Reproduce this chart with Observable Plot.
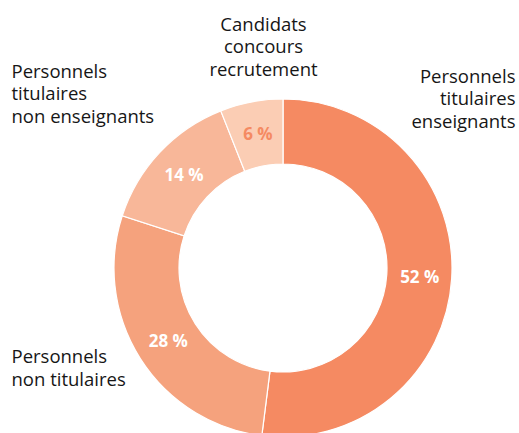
<!DOCTYPE html>
<html>
<head>
<meta charset="utf-8">
<script src="https://cdn.jsdelivr.net/npm/d3@7"></script>
<script src="https://cdn.jsdelivr.net/npm/@observablehq/plot@0.6"></script>
<style>
  html, body { margin: 0; padding: 0; background: #fff; }
  #chart svg { display: block; }
</style>
</head>
<body>
<div id="chart"></div>
<script>
// ---- Data ----
const categories = [
  "Personnels titulaires enseignants",
  "Personnels non titulaires",
  "Personnels titulaires non enseignants",
  "Candidats concours recrutement"
];
const categoryLabels = [
  "Personnels\ntitulaires\nenseignants",
  "Personnels\nnon titulaires",
  "Personnels\ntitulaires\nnon enseignants",
  "Candidats\nconcours\nrecrutement"
];
const values = [52, 28, 14, 6];
const valueLabels = ["52 %", "28 %", "14 %", "6 %"];
const sliceColors = ["#f58a62", "#f5a27d", "#f8b799", "#fbcdb4"];

// ---- Layout (not data) ----
const W = 519, H = 433;
const cx = 283, cy = 268, R = 169, r0 = 104;
const labelLayout = [
  {x: 515, y: 127, anchor: "end"},
  {x: 11, y: 385, anchor: "start"},
  {x: 11, y: 122, anchor: "start"},
  {x: 263, y: 75, anchor: "middle"}
];

const color = Plot.scale({color: {domain: categories, range: sliceColors}});

const table = categories.map((c, i) => ({
  category: c, label: categoryLabels[i], value: values[i], valueLabel: valueLabels[i], i
}));

const pie = d3.pie().sort(null).value(d => d.value).startAngle(0).endAngle(2 * Math.PI);
const arcs = pie(table);
const arcGen = d3.arc().innerRadius(r0).outerRadius(R);
arcs.forEach(a => {
  const [x, y] = arcGen.centroid(a);
  a.data.cx = cx + x;
  a.data.cy = cy + y;
});

const font = "'Open Sans', Lato, sans-serif";

const donutMark = () => {
  const g = d3.create("svg:g").attr("transform", `translate(${cx},${cy})`);
  g.selectAll("path")
    .data(arcs)
    .join("path")
    .attr("d", arcGen)
    .attr("fill", d => color.apply(d.data.category))
    .attr("stroke", "#ffffff")
    .attr("stroke-width", 1.2);
  return g.node();
};

const chart = Plot.plot({
  width: W,
  height: H,
  margin: 0,
  x: {type: "identity", axis: null},
  y: {type: "identity", axis: null},
  style: {fontFamily: font, background: "#fff"},
  marks: [
    donutMark,
    Plot.text(table, {
      x: "cx", y: "cy", text: "valueLabel",
      fill: d => d.i === 3 ? sliceColors[0] : "#ffffff",
      fontSize: 17, fontWeight: 700, textAnchor: "middle"
    }),
    ...["start", "end", "middle"].map(anchor =>
      Plot.text(table.filter(d => labelLayout[d.i].anchor === anchor), {
        x: d => labelLayout[d.i].x,
        y: d => labelLayout[d.i].y,
        text: "label",
        textAnchor: anchor,
        lineAnchor: "bottom",
        lineHeight: 1.21,
        fontSize: 18.5,
        fill: "#161616"
      })
    )
  ]
});

document.getElementById("chart").append(chart);
</script>
</body>
</html>
